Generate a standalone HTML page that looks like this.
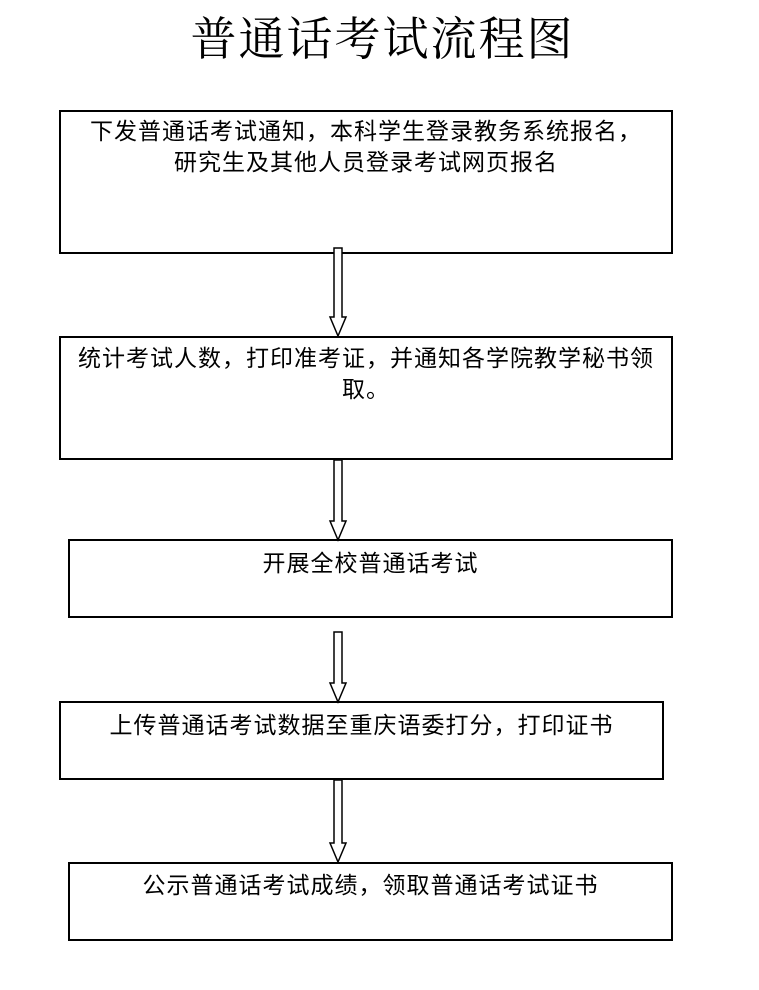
<!DOCTYPE html>
<html>
<head>
<meta charset="utf-8">
<style>
  html,body{margin:0;padding:0;background:#fff;}
  body{width:759px;height:990px;position:relative;overflow:hidden;
       font-family:"Liberation Sans","Noto Sans CJK SC",sans-serif;color:#000;}
  .title{position:absolute;left:3px;top:13px;width:759px;text-align:center;
       font-family:"Liberation Serif","Noto Serif CJK SC",serif;font-size:46px;line-height:54px;
       letter-spacing:2px;}
  .box{position:absolute;border:2px solid #000;box-sizing:border-box;background:#fff;}
  .txt{position:absolute;text-align:center;font-size:23px;line-height:31px;letter-spacing:1px;white-space:nowrap;}
  svg{position:absolute;left:0;top:0;}
</style>
</head>
<body>
<div class="title">普通话考试流程图</div>

<div class="box" style="left:59px;top:110px;width:614px;height:144px;"></div>
<div class="box" style="left:59px;top:336px;width:614px;height:124px;"></div>
<div class="box" style="left:68px;top:539px;width:605px;height:79px;"></div>
<div class="box" style="left:59px;top:701px;width:605px;height:79px;"></div>
<div class="box" style="left:68px;top:862px;width:605px;height:79px;"></div>

<div class="txt" style="left:59px;top:116px;width:614px;">下发普通话考试通知，本科学生登录教务系统报名，<br>研究生及其他人员登录考试网页报名</div>
<div class="txt" style="left:59px;top:343px;width:614px;">统计考试人数，打印准考证，并通知各学院教学秘书领<br>取。</div>
<div class="txt" style="left:68px;top:548px;width:605px;">开展全校普通话考试</div>
<div class="txt" style="left:59px;top:710px;width:605px;">上传普通话考试数据至重庆语委打分，打印证书</div>
<div class="txt" style="left:68px;top:870px;width:605px;">公示普通话考试成绩，领取普通话考试证书</div>

<svg width="759" height="990" viewBox="0 0 759 990">
  <g fill="#fff" stroke="#000" stroke-width="1.5" stroke-linejoin="miter">
    <path d="M334 248 L342 248 L342 317 L346 317 L338 336 L330 317 L334 317 Z"/>
    <path d="M334 460 L342 460 L342 521 L346 521 L338 540 L330 521 L334 521 Z"/>
    <path d="M334 632 L342 632 L342 683 L346 683 L338 702 L330 683 L334 683 Z"/>
    <path d="M334 780 L342 780 L342 843 L346 843 L338 862 L330 843 L334 843 Z"/>
  </g>
</svg>
</body>
</html>
